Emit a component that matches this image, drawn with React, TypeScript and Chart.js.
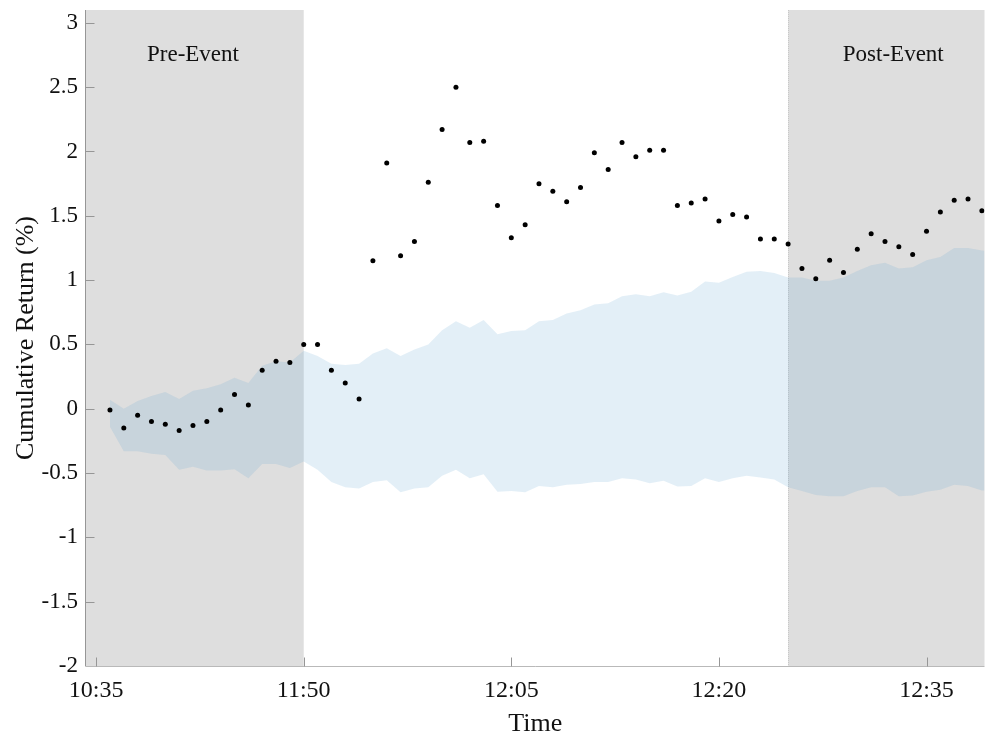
import { useEffect, useRef } from "react";
import { Chart, registerables } from "chart.js";

Chart.register(...registerables);

// minute index of each observation (10:35 label sits at index 0)
const minuteIndex = [
  1, 2, 3, 4, 5, 6, 7, 8, 9, 10, 11, 12, 13, 14, 15, 16,
  17, 18, 19, 20, 21, 22, 23, 24, 25, 26, 27, 28, 29, 30, 31, 32,
  33, 34, 35, 36, 37, 38, 39, 40, 41, 42, 43, 44, 45, 46, 47, 48,
  49, 50, 51, 52, 53, 54, 55, 56, 57, 58, 59, 60, 61, 62, 63, 64, 65,
];

// observed cumulative return (%) — 64 points
const cumulativeReturn = [
  -0.01, -0.15, -0.05, -0.1, -0.12, -0.17, -0.13, -0.1, -0.01, 0.11, 0.03, 0.3, 0.37, 0.36, 0.5, 0.5,
  0.3, 0.2, 0.075, 1.15, 1.91, 1.19, 1.3, 1.76, 2.17, 2.5, 2.07, 2.08, 1.58, 1.33, 1.43, 1.75,
  1.69, 1.61, 1.72, 1.99, 1.86, 2.07, 1.96, 2.01, 2.01, 1.58, 1.6, 1.63, 1.46, 1.51, 1.49, 1.32,
  1.32, 1.28, 1.09, 1.01, 1.155, 1.06, 1.24, 1.36, 1.3, 1.26, 1.2, 1.38, 1.53, 1.62, 1.63, 1.54,
];

// confidence band
const bandUpper = [
  0.07, 0.0, 0.06, 0.1, 0.13, 0.075, 0.14, 0.16, 0.19, 0.24, 0.2, 0.335, 0.37, 0.36, 0.45, 0.41,
  0.35, 0.34, 0.35, 0.43, 0.47, 0.41, 0.46, 0.5, 0.61, 0.68, 0.63, 0.69, 0.58, 0.605, 0.61, 0.68,
  0.69, 0.74, 0.765, 0.81, 0.82, 0.875, 0.89, 0.875, 0.905, 0.88, 0.91, 0.99, 0.98, 1.025, 1.065, 1.07,
  1.055, 1.02, 1.02, 0.995, 0.995, 1.02, 1.07, 1.115, 1.135, 1.09, 1.1, 1.155, 1.18, 1.25, 1.25, 1.23, 1.22,
];
const bandLower = [
  -0.14, -0.33, -0.33, -0.35, -0.36, -0.475, -0.45, -0.48, -0.48, -0.47, -0.54, -0.43, -0.43, -0.46, -0.41, -0.475,
  -0.57, -0.61, -0.62, -0.57, -0.555, -0.65, -0.62, -0.61, -0.52, -0.475, -0.54, -0.51, -0.645, -0.64, -0.65, -0.6,
  -0.61, -0.59, -0.585, -0.57, -0.57, -0.54, -0.55, -0.58, -0.56, -0.605, -0.6, -0.54, -0.57, -0.54, -0.52, -0.535,
  -0.55, -0.61, -0.64, -0.67, -0.68, -0.68, -0.64, -0.61, -0.61, -0.68, -0.675, -0.645, -0.63, -0.59, -0.6, -0.635, -0.64,
];

const xTickValues = [0, 15, 30, 45, 60];
const xTickLabels = ["10:35", "11:50", "12:05", "12:20", "12:35"];
const yTickValues = [-2, -1.5, -1, -0.5, 0, 0.5, 1, 1.5, 2, 2.5, 3];

const preEventEnd = 15;
const postEventStart = 50;
const regionLabels = [
  { text: "Pre-Event", x: 7, y: 2.75 },
  { text: "Post-Event", x: 57.6, y: 2.75 },
];

const FONT = '"Liberation Serif", "Times New Roman", Times, serif';
const SHADE = "rgb(222,222,222)";
const AXIS = "rgb(150,150,150)";

const decorPlugin = {
  id: "decor",
  beforeDatasetsDraw(chart: any) {
    const { ctx, chartArea: a, scales } = chart;
    const x = scales.x;
    const y = scales.y;
    ctx.save();
    ctx.fillStyle = SHADE;
    const xPre = x.getPixelForValue(preEventEnd);
    ctx.fillRect(a.left, a.top, xPre - a.left, a.bottom - a.top);
    const xPost = x.getPixelForValue(postEventStart);
    ctx.fillRect(xPost, a.top, a.right - xPost, a.bottom - a.top);
    ctx.strokeStyle = "rgb(200,200,200)";
    ctx.lineWidth = 1;
    ctx.setLineDash([1, 1]);
    ctx.beginPath();
    ctx.moveTo(Math.round(xPost) + 0.5, a.top);
    ctx.lineTo(Math.round(xPost) + 0.5, a.bottom);
    ctx.stroke();
    ctx.setLineDash([]);
    ctx.fillStyle = "#111";
    ctx.font = `23px ${FONT}`;
    ctx.textAlign = "center";
    ctx.textBaseline = "middle";
    for (const r of regionLabels) {
      ctx.fillText(r.text, x.getPixelForValue(r.x), y.getPixelForValue(r.y));
    }
    ctx.restore();
  },
  afterDraw(chart: any) {
    const { ctx, chartArea: a, scales } = chart;
    const x = scales.x;
    const y = scales.y;
    ctx.save();
    ctx.lineWidth = 1;
    ctx.strokeStyle = AXIS;
    ctx.beginPath();
    const lx = Math.round(a.left) - 0.5;
    ctx.moveTo(lx, a.top);
    ctx.lineTo(lx, a.bottom);
    for (const v of yTickValues) {
      const py = Math.round(y.getPixelForValue(v)) + 0.5;
      ctx.moveTo(lx, py);
      ctx.lineTo(lx + 9, py);
    }
    ctx.stroke();
    ctx.strokeStyle = "rgb(185,185,185)";
    ctx.beginPath();
    const by = Math.round(a.bottom) + 0.5;
    ctx.moveTo(a.left, by);
    ctx.lineTo(a.right, by);
    ctx.stroke();
    ctx.strokeStyle = AXIS;
    ctx.beginPath();
    for (const v of xTickValues) {
      const px = Math.round(x.getPixelForValue(v)) + 0.5;
      ctx.moveTo(px, by);
      ctx.lineTo(px, by - 9);
    }
    ctx.stroke();
    ctx.restore();
  },
};

export default function App() {
  const ref = useRef<HTMLCanvasElement | null>(null);

  useEffect(() => {
    if (!ref.current) return;
    const pts = cumulativeReturn.map((v, i) => ({ x: minuteIndex[i], y: v }));
    const up = bandUpper.map((v, i) => ({ x: minuteIndex[i], y: v }));
    const lo = bandLower.map((v, i) => ({ x: minuteIndex[i], y: v }));
    const chart = new Chart(ref.current, {
      type: "scatter",
      data: {
        datasets: [
          {
            label: "Cumulative Return",
            data: pts,
            showLine: false,
            pointRadius: 2.5,
            pointBackgroundColor: "#000",
            pointBorderWidth: 0,
            pointHoverRadius: 2.5,
          },
          {
            label: "Upper",
            data: up,
            showLine: true,
            borderWidth: 0,
            borderColor: "rgba(0,0,0,0)",
            pointRadius: 0,
            fill: "+1",
            backgroundColor: "rgba(102,169,213,0.18)",
            tension: 0,
          },
          {
            label: "Lower",
            data: lo,
            showLine: true,
            borderWidth: 0,
            borderColor: "rgba(0,0,0,0)",
            pointRadius: 0,
            fill: false,
            tension: 0,
          },
        ],
      } as any,
      options: {
        responsive: false,
        animation: false,
        devicePixelRatio: 1,
        layout: { padding: { top: 10, left: 0, right: 0, bottom: 0 } },
        plugins: {
          legend: { display: false },
          tooltip: { enabled: false },
        },
        scales: {
          x: {
            type: "linear",
            min: -0.73,
            max: 64.19,
            grid: { display: false, drawTicks: false },
            border: { display: false },
            afterBuildTicks: (s: any) => {
              s.ticks = xTickValues.map((v) => ({ value: v }));
            },
            afterFit: (s: any) => {
              s.height = 74;
              s.paddingLeft = 0;
              s.paddingRight = 0;
            },
            ticks: {
              autoSkip: false,
              maxRotation: 0,
              padding: 10,
              color: "#111",
              font: { family: FONT, size: 24 },
              callback: (v: any) => {
                const i = xTickValues.indexOf(Number(v));
                return i >= 0 ? xTickLabels[i] : "";
              },
            },
            title: {
              display: true,
              text: "Time",
              color: "#111",
              font: { family: FONT, size: 26 },
              padding: { top: 0, bottom: 0 },
            },
          },
          y: {
            type: "linear",
            min: -2,
            max: 3.1,
            grid: { display: false, drawTicks: false },
            border: { display: false },
            afterBuildTicks: (s: any) => {
              s.ticks = yTickValues.map((v) => ({ value: v }));
            },
            afterFit: (s: any) => {
              s.width = 86;
              s.paddingTop = 0;
              s.paddingBottom = 0;
            },
            ticks: {
              padding: 8,
              color: "#111",
              font: { family: FONT, size: 23 },
              callback: (v: any) => String(v),
            },
            title: {
              display: true,
              text: "Cumulative Return (%)",
              color: "#111",
              font: { family: FONT, size: 26 },
              padding: { top: 11, bottom: 0 },
            },
          },
        },
      } as any,
      plugins: [decorPlugin],
    });
    return () => chart.destroy();
  }, []);

  return (
    <div style={{ position: "fixed", left: 0, top: 0, width: 987, height: 740, background: "#fff" }}>
      <canvas ref={ref} width={987} height={740} style={{ display: "block", width: 987, height: 740 }} />
    </div>
  );
}
